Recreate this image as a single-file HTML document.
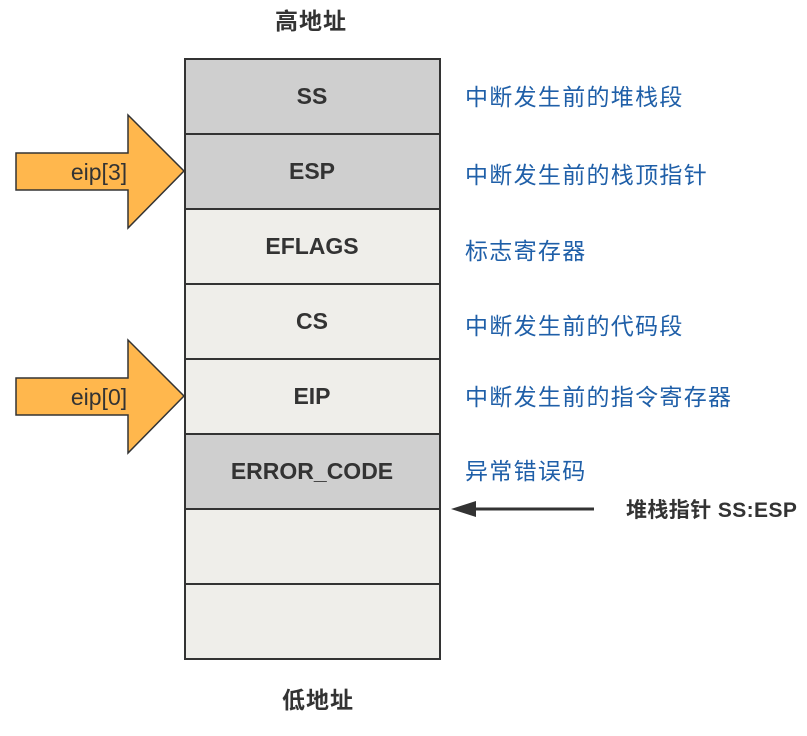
<!DOCTYPE html>
<html><head><meta charset="utf-8"><style>
body{margin:0;background:#fff;}
svg text{font-family:"Liberation Sans","Noto Sans CJK SC",sans-serif;}
</style></head><body>
<svg width="807" height="731" viewBox="0 0 807 731" xmlns="http://www.w3.org/2000/svg">
<g stroke="#333" stroke-width="2">
<rect x="185" y="59" width="255" height="75" fill="#cfcfcf"/>
<rect x="185" y="134" width="255" height="75" fill="#cfcfcf"/>
<rect x="185" y="209" width="255" height="75" fill="#efeeea"/>
<rect x="185" y="284" width="255" height="75" fill="#efeeea"/>
<rect x="185" y="359" width="255" height="75" fill="#efeeea"/>
<rect x="185" y="434" width="255" height="75" fill="#cfcfcf"/>
<rect x="185" y="509" width="255" height="75" fill="#efeeea"/>
<rect x="185" y="584" width="255" height="75" fill="#efeeea"/>
</g>
<g font-size="23" font-weight="bold" fill="#333" text-anchor="middle">
<text x="312" y="104">SS</text>
<text x="312" y="179">ESP</text>
<text x="312" y="254">EFLAGS</text>
<text x="312" y="329">CS</text>
<text x="312" y="404">EIP</text>
<text x="312" y="479">ERROR_CODE</text>
</g>
<g font-size="23" font-weight="bold" fill="#333" letter-spacing="1">
<text x="275" y="29">高地址</text>
<text x="282" y="708">低地址</text>
</g>
<g font-size="23" fill="#1f5fa8" letter-spacing="1.3">
<text x="465" y="105">中断发生前的堆栈段</text>
<text x="465" y="183">中断发生前的栈顶指针</text>
<text x="465" y="259">标志寄存器</text>
<text x="465" y="334">中断发生前的代码段</text>
<text x="465" y="405">中断发生前的指令寄存器</text>
<text x="465" y="479">异常错误码</text>
</g>
<g fill="#ffb74d" stroke="#333" stroke-width="1.5">
<polygon points="16,153 128,153 128,115 184,171 128,228 128,190 16,190"/>
<polygon points="16,378 128,378 128,340 184,396 128,453 128,415 16,415"/>
</g>
<g font-size="23" fill="#333" text-anchor="middle">
<text x="99" y="180">eip[3]</text>
<text x="99" y="405">eip[0]</text>
</g>
<line x1="470" y1="509" x2="594" y2="509" stroke="#333" stroke-width="3"/>
<polygon points="451,509 476,501 476,517" fill="#333"/>
<text x="626" y="517" font-size="21" font-weight="bold" fill="#333" letter-spacing="0.4">堆栈指针 SS:ESP</text>
</svg>
</body></html>
